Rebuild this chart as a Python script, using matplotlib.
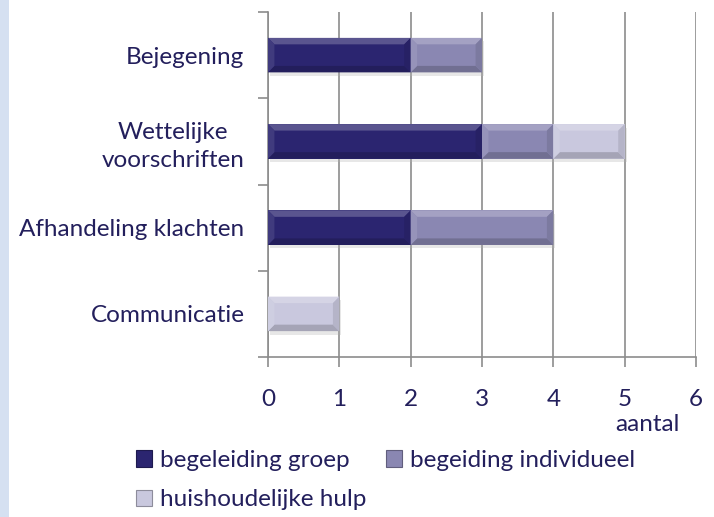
import numpy as np
import matplotlib.pyplot as plt
import matplotlib.patches as mpatches
import matplotlib.patheffects as pe
from matplotlib.ticker import FixedLocator

plt.rcParams['font.family'] = ['Lato', 'DejaVu Sans']

# Data
categories = ["Bejegening", "Wettelijke\nvoorschriften", "Afhandeling klachten", "Communicatie"]
series_names = ["begeleiding groep", "begeiding individueel", "huishoudelijke hulp"]
groep = [2, 3, 2, 0]
individueel = [1, 1, 2, 0]
hulp = [0, 1, 0, 1]
x_ticks = [0, 1, 2, 3, 4, 5, 6]

colors = ["#2b2570", "#8a87b2", "#c9c8de"]
text_color = "#231f5c"
grid_color = "#8c8c8c"
fs = 17.5

fig = plt.figure(figsize=(7.14, 5.17), dpi=100)
# light blue strip on the left
fig.patches.append(mpatches.Rectangle((0, 0), 9 / 714, 1, transform=fig.transFigure,
                                      facecolor="#d5e0f1", edgecolor="none", zorder=0))
ax = fig.add_axes([268 / 714, 1 - 357 / 517, 428 / 714, 345 / 517])

y = np.arange(len(categories))
bar_h = 0.4


def lighten(c, f):
    c = np.array(plt.matplotlib.colors.to_rgb(c))
    return tuple(c + (1 - c) * f)


def darken(c, f):
    c = np.array(plt.matplotlib.colors.to_rgb(c))
    return tuple(c * (1 - f))


left = np.zeros(len(categories))
for vals, name, col in zip([groep, individueel, hulp], series_names, colors):
    vals = np.array(vals, dtype=float)
    bars = ax.barh(y, vals, left=left, height=bar_h, color=col, edgecolor="none", zorder=3)
    for b in bars:
        if b.get_width() <= 0:
            continue
        b.set_path_effects([pe.SimplePatchShadow(offset=(1.5, -2.5), shadow_rgbFace="#b0b0b0",
                                                 alpha=0.3), pe.Normal()])
        x0, y0 = b.get_x(), b.get_y()
        w, h = b.get_width(), b.get_height()
        bx, by = 0.09, 0.075
        # bevel facets (y axis inverted: y0 is the visual top)
        ax.fill([x0, x0 + w, x0 + w - bx, x0 + bx], [y0, y0, y0 + by, y0 + by],
                color=lighten(col, 0.22), lw=0, zorder=4)
        ax.fill([x0, x0 + w, x0 + w - bx, x0 + bx], [y0 + h, y0 + h, y0 + h - by, y0 + h - by],
                color=darken(col, 0.18), lw=0, zorder=4)
        ax.fill([x0, x0 + bx, x0 + bx, x0], [y0, y0 + by, y0 + h - by, y0 + h],
                color=lighten(col, 0.1), lw=0, zorder=4)
        ax.fill([x0 + w, x0 + w - bx, x0 + w - bx, x0 + w], [y0, y0 + by, y0 + h - by, y0 + h],
                color=darken(col, 0.1), lw=0, zorder=4)
    left += vals

ax.set_xlim(x_ticks[0], x_ticks[-1])
ax.set_ylim(len(categories) - 0.5, -0.5)
ax.set_xticks(x_ticks)
ax.set_yticks(y)
ax.set_yticklabels(categories, ha="right", multialignment="center", linespacing=1.4)
ax.yaxis.set_minor_locator(FixedLocator(np.arange(-0.5, len(categories), 1)))
ax.tick_params(axis="y", which="major", length=0, pad=17, labelsize=fs, labelcolor=text_color)
ax.tick_params(axis="y", which="minor", length=7, width=1.2, color=grid_color)
ax.tick_params(axis="x", length=7, width=1.2, color=grid_color, pad=16,
               labelsize=fs, labelcolor=text_color)
ax.grid(axis="x", color=grid_color, linewidth=1.2, zorder=0)
ax.set_axisbelow(True)
for s in ["top", "right"]:
    ax.spines[s].set_visible(False)
for s in ["left", "bottom"]:
    ax.spines[s].set_color(grid_color)
    ax.spines[s].set_linewidth(1.2)

ax.set_xlabel("aantal", fontsize=fs, color=text_color, labelpad=2)
ax.xaxis.set_label_coords(0.962, -0.165)
ax.xaxis.label.set_ha("right")

legend_handles = [mpatches.Patch(facecolor=c, edgecolor=darken(c, 0.3), linewidth=0.8)
                  for c in colors]
order = [0, 2, 1]
leg = fig.legend([legend_handles[i] for i in order], [series_names[i] for i in order],
                 ncol=2, loc="upper left", bbox_to_anchor=(136 / 714, 1 - 450 / 517),
                 frameon=False, fontsize=fs, handlelength=0.65, handleheight=0.65,
                 handletextpad=0.35, columnspacing=0.8, labelspacing=0.75,
                 borderaxespad=0, borderpad=0)
for t in leg.get_texts():
    t.set_color(text_color)

fig.savefig("out.png", dpi=100)
